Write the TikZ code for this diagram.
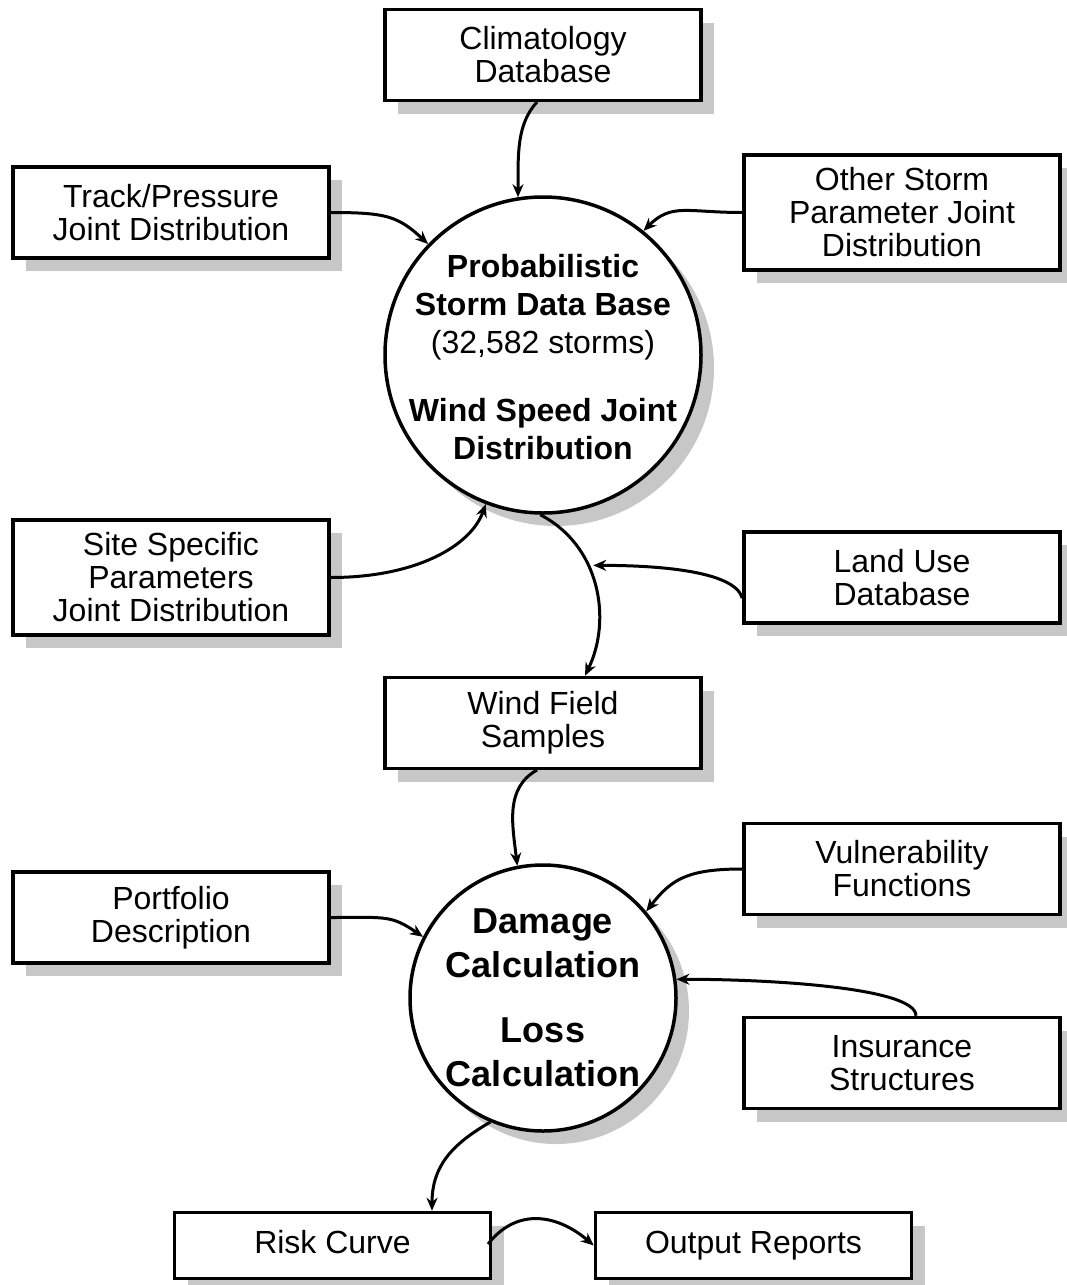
\documentclass[tikz,border=0pt]{standalone}
\usepackage{fontspec}
\setmainfont{Liberation Sans}
\usetikzlibrary{shadows,arrows.meta}
\begin{document}
\begin{tikzpicture}[x=1pt,y=-1pt,
  shadowed/.style={drop shadow={shadow xshift=13pt,shadow yshift=-13pt,fill=black!22,opacity=1}},
  infobox/.style={shadowed,draw,fill=white,line width=3.5pt,minimum width=316pt,minimum height=91pt,
    inner sep=0pt,align=center,font=\fontsize{32}{33}\selectfont},
  onerow/.style={minimum height=66pt,text height=23pt,text depth=7pt},
  hub/.style={shadowed,circle,draw,fill=white,line width=3.5pt,inner sep=0pt},
  flow/.style={line width=3pt,-{Stealth[length=13pt,width=11pt]}}]
\useasboundingbox (0,0) rectangle (1067,1285);

% input and output boxes
\node[infobox] (clim)  at (543,55)    {Climatology\\Database};
\node[infobox] (track) at (171,212.5) {Track/Pressure\\Joint Distribution};
\node[infobox,minimum height=115pt] (other) at (902,212.5) {Other Storm\\Parameter Joint\\Distribution};
\node[infobox,minimum height=115pt] (site)  at (171,577.5) {Site Specific\\Parameters\\Joint Distribution};
\node[infobox] (land)  at (902,577.5) {Land Use\\Database};
\node[infobox] (wind)  at (543,723)   {Wind Field\\Samples};
\node[infobox] (vuln)  at (902,869)   {Vulnerability\\Functions};
\node[infobox] (port)  at (171,917.5) {Portfolio\\Description};
\node[infobox] (ins)   at (902,1063)  {Insurance\\Structures};
\node[infobox,onerow] (risk) at (332.5,1245.5) {Risk Curve};
\node[infobox,onerow] (out)  at (753.5,1245.5) {Output Reports};

% central process circles
\node[hub,minimum size=316pt] (storm) at (543,355) {};
\node[align=center,font=\fontsize{32}{38}\selectfont] (stormtext) at ([yshift=-2pt]storm)
  {\textbf{Probabilistic}\\\textbf{Storm Data Base}\\(32,582 storms)\\[30pt]\textbf{Wind Speed Joint}\\\textbf{Distribution}};
\node[hub,minimum size=266pt] (dmg) at (543,998) {};
\node[align=center,font=\bfseries\fontsize{36}{44}\selectfont] (dmgtext) at (dmg)
  {Damage\\Calculation\\[21pt]Loss\\Calculation};

% connectors into the storm data base
\draw[flow] (537,102) .. controls +(-20,22) and +(0,-45) .. (storm.99);
\draw[flow] (track.east) .. controls +(55,0) and +(-30,-28) .. (storm.136);
\draw[flow] (other.west) .. controls +(-55,0) and +(28,-28) .. (storm.51);
\draw[flow] (site.east) .. controls +(85,0) and +(-15,42) .. (storm.249);

% storm data base to wind field, with land use joining on the way
\draw[flow] (storm.269) .. controls +(60,31) and +(27,-56) .. coordinate[pos=0.38] (landjoin) (wind.north -| 585,0);
\draw[flow] (land.west |- 0,598) .. controls +(-8,-28) and +(60,0) .. ([xshift=5pt]landjoin);

% connectors into the damage calculation
\draw[flow] (537,770) .. controls +(-32,18) and +(-5,-42) .. (dmg.101.6);
\draw[flow] (port.east) .. controls +(55,0) and +(-32,-22) .. (dmg.153);
\draw[flow] (vuln.west) .. controls +(-55,0) and +(25,-32) .. (dmg.40);
\draw[flow] (ins.north -| 916,0) .. controls +(0,-28) and +(95,0) .. (dmg.8);

% outputs
\draw[flow] (dmg.247) .. controls +(-38,22) and +(0,-45) .. (risk.north -| 432,0);
\draw[flow] (488,1244) .. controls +(30,-38) and +(-35,-30) .. (out.west);
\end{tikzpicture}
\end{document}
